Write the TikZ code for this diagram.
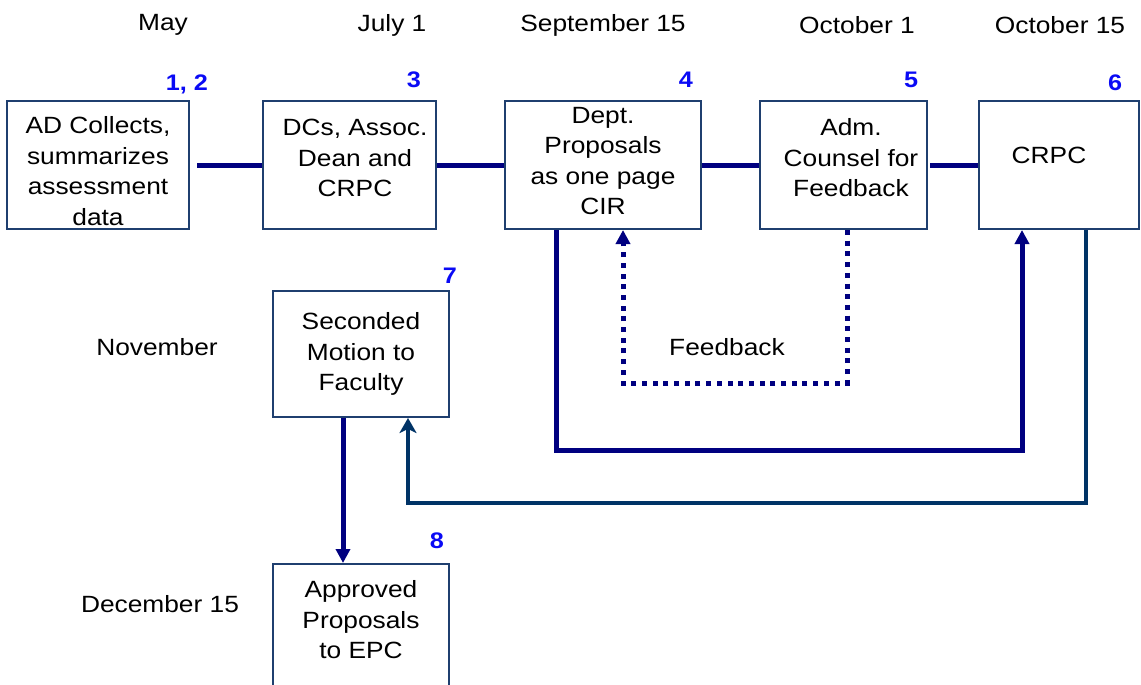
\documentclass[tikz,border=0pt]{standalone}
\usepackage{fontspec}
\setmainfont{Liberation Sans}[FakeStretch=1.12]
\usetikzlibrary{arrows.meta}
\definecolor{boxline}{HTML}{1F3F6F}
\definecolor{navy}{HTML}{000080}
\definecolor{deepblue}{HTML}{003366}
\definecolor{numblue}{HTML}{0A0AF5}
\tikzset{
  box/.style={draw=boxline, line width=2pt, inner sep=0pt},
  txt/.style={align=center, inner sep=0pt, font=\fontsize{23.5}{30.5}\selectfont},
  date/.style={inner sep=0pt, font=\fontsize{23.5}{28}\selectfont},
  num/.style={inner sep=0pt, text=numblue, font=\fontsize{22.5}{26}\selectfont\bfseries},
  link/.style={draw=navy, line width=5pt},
  arr/.style={-{Triangle[width=14pt,length=14pt]}},
  dotline/.style={draw=navy, line width=5pt, dash pattern=on 5pt off 5.7pt},
  backlink/.style={draw=deepblue, line width=4pt, -{Stealth[width=17pt,length=15pt,inset=4pt]}}
}
\begin{document}
\begin{tikzpicture}[x=1pt, y=-1pt]
\useasboundingbox (0,0) rectangle (1141,685);

% date labels
\node[date] (dMay) at (163,25) {May};
\node[date] (dJul) at (392,25) {July 1};
\node[date] (dSep) at (603,25) {September 15};
\node[date] (dOct) at (857,25) {October 1};
\node[date] (dOctb) at (1060,25) {October 15};
\node[date] (dNov) at (157,347) {November};
\node[date] (dDec) at (160,604) {December 15};

% process boxes
\node[box, minimum width=182pt, minimum height=128pt] (b1) at (98,165) {};
\node[box, minimum width=173pt, minimum height=128pt] (b2) at (349.5,165) {};
\node[box, minimum width=196pt, minimum height=128pt] (b3) at (603,165) {};
\node[box, minimum width=167pt, minimum height=128pt] (b4) at (843.5,165) {};
\node[box, minimum width=160pt, minimum height=128pt] (b5) at (1059,165) {};
\node[box, minimum width=176pt, minimum height=126pt] (b7) at (361,354) {};
\node[box, minimum width=176pt, minimum height=140pt, anchor=north] (b8) at (361,563) {};

% box texts
\node[txt] (t1) at (98,171) {AD Collects,\\summarizes\\assessment\\data};
\node[txt] (t2) at (355,158) {DCs, Assoc.\\Dean and\\CRPC};
\node[txt] (t3) at (603,161) {Dept.\\Proposals\\as one page\\CIR};
\node[txt] (t4) at (851,158) {Adm.\\Counsel for\\Feedback};
\node[txt] (t5) at (1049,155) {CRPC};
\node[txt] (t7) at (361,354) {Seconded\\Motion to\\Faculty};
\node[txt] (t8) at (361,620) {Approved\\Proposals\\to EPC};
\node[date] (fb) at (727,347) {Feedback};

% step numbers
\node[num] (n1) at (187,84) {1, 2};
\node[num] (n3) at (414,80) {3};
\node[num] (n4) at (686,80) {4};
\node[num] (n5) at (911,80) {5};
\node[num] (n6) at (1115,83) {6};
\node[num] (n7) at (450,276) {7};
\node[num] (n8) at (437,541) {8};

% chain along the top row
\draw[link, shorten <=7pt] (b1.east) -- (b2.west);
\draw[link] (b2.east) -- (b3.west);
\draw[link] (b3.east) -- (b4.west);
\draw[link, shorten <=2pt] (b4.east) -- (b5.west);

% proposals forwarded to CRPC
\coordinate (r1) at (556,450);
\coordinate (r2) at (1022,450);
\draw[link, arr] (b3.south -| r1) -- (r1) -- (r2) -- (b5.south -| r2);

% feedback loop
\coordinate (f1) at (847,383);
\coordinate (f2) at (623,383);
\draw[dotline, arr] (b4.south -| f1) -- (f1) -- (f2) -- (b3.south -| f2);

% CRPC back to the faculty motion
\coordinate (q1) at (1086,503);
\coordinate (q2) at (408,503);
\draw[backlink] (b5.south -| q1) -- (q1) -- (q2) -- (b7.south -| q2);

% motion to approved proposals
\coordinate (m1) at (343,0);
\draw[link, arr] (b7.south -| m1) -- (b8.north -| m1);
\end{tikzpicture}
\end{document}
